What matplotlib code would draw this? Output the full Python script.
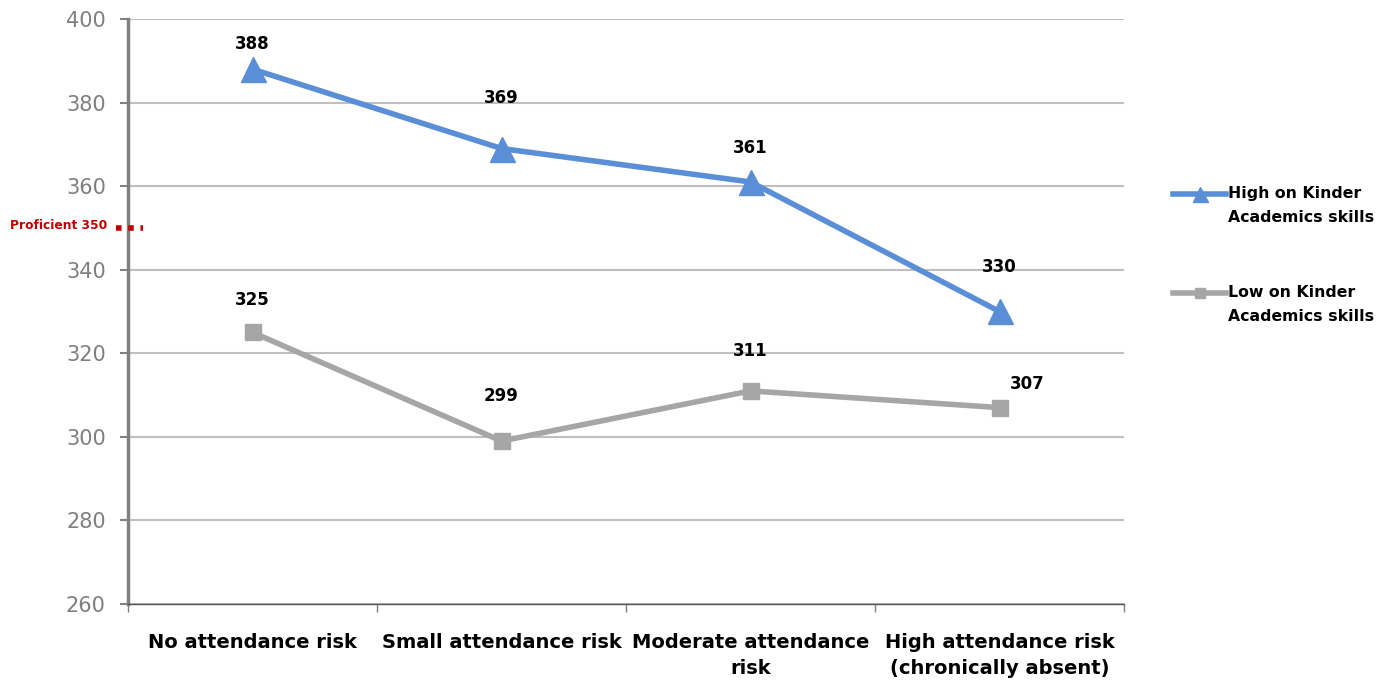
import matplotlib
matplotlib.use("Agg")
import matplotlib.pyplot as plt
from matplotlib.transforms import ScaledTranslation

categories = ["No attendance risk", "Small attendance risk", "Moderate attendance\nrisk", "High attendance risk\n(chronically absent)"]
high_vals = [388, 369, 361, 330]
low_vals = [325, 299, 311, 307]
series_names = ["High on Kinder\nAcademics skills", "Low on Kinder\nAcademics skills"]
proficient = 350
yticks = [260, 280, 300, 320, 340, 360, 380, 400]

blue = "#5A8ED6"
gray = "#A6A6A6"

fig = plt.figure(figsize=(13.94, 6.82), dpi=100)
ax = fig.add_axes([128/1394, 1-604/682, (1124-128)/1394, (604-19)/682])

x = [i + 0.5 for i in range(len(categories))]
ax.plot(x, high_vals, color=blue, lw=4, marker="^", ms=18, label=series_names[0], zorder=3)
ax.plot(x, low_vals, color=gray, lw=4, marker="s", ms=12, label=series_names[1], zorder=3)

ax.set_xlim(0, 4)
ax.set_ylim(260, 400)
ax.set_yticks(yticks)
ax.set_xticks(range(5))
ax.set_xticklabels([])
ax.yaxis.grid(True, color="#BFBFBF", lw=1.5)
ax.set_axisbelow(True)
for s in ["top", "right"]:
    ax.spines[s].set_visible(False)
ax.spines["left"].set_color("#808080")
ax.spines["left"].set_linewidth(2.5)
ax.spines["bottom"].set_color("#555555")
ax.spines["bottom"].set_linewidth(1)
ax.tick_params(axis="y", colors="#808080", labelsize=15, length=6, width=1.5, pad=10)
ax.tick_params(axis="x", colors="#808080", length=6, width=1, direction="out")
for lab in ax.get_yticklabels():
    lab.set_color("#7F7F7F")

for xi, c in zip(x, categories):
    ax.text(xi, -0.05, c, transform=ax.get_xaxis_transform(), ha="center", va="top",
            fontsize=14, fontweight="bold", color="black", linespacing=1.45)

# data labels
high_off = [(0, 25), (0, 51), (0, 34), (0, 44)]
low_off = [(0, 32), (0, 45), (0, 40), (28, 24)]
for xi, v, o in zip(x, high_vals, high_off):
    ax.annotate(str(v), (xi, v), xytext=o, textcoords="offset pixels", ha="center", va="center",
                fontsize=12, fontweight="bold", color="black")
for xi, v, o in zip(x, low_vals, low_off):
    ax.annotate(str(v), (xi, v), xytext=o, textcoords="offset pixels", ha="center", va="center",
                fontsize=12, fontweight="bold", color="black")

# proficient marker
ax.plot([-0.05, 0.06], [proficient, proficient], color="#C00000", lw=4, ls=(0, (1, 1.2)),
        clip_on=False, zorder=4)
ax.annotate("Proficient 350", (0, proficient), xytext=(-118, 2), textcoords="offset pixels",
            ha="left", va="center", fontsize=8.8, fontweight="bold", color="#C00000")

leg = fig.legend(loc="upper left", bbox_to_anchor=(1173/1394, 1-186/682), frameon=False,
                 prop={"weight": "bold", "size": 11.3}, handlelength=3.4,
                 handletextpad=0.1, labelspacing=3.85, markerscale=0.6,
                 borderpad=0, borderaxespad=0)
for t in leg.get_texts():
    t.set_linespacing(1.75)
for h in leg.legend_handles:
    h.set_transform(h.get_transform() + ScaledTranslation(0, 12/100, fig.dpi_scale_trans))

fig.savefig("out.png", dpi=100)
